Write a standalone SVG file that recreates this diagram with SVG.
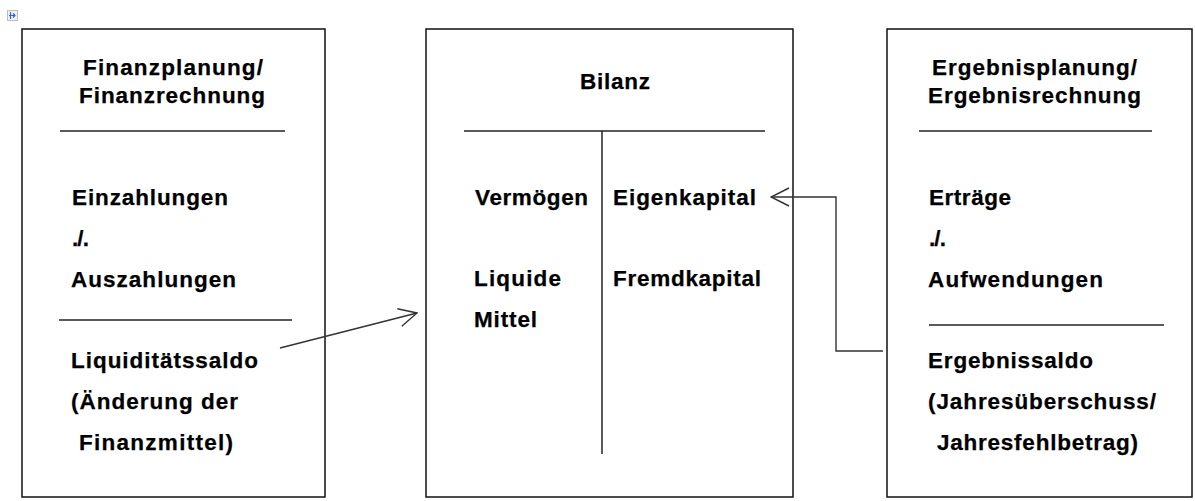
<svg xmlns="http://www.w3.org/2000/svg" width="1195" height="501" viewBox="0 0 1195 501">
<style>
.box{fill:#fff;stroke:#111;stroke-width:1.5}
.rule{stroke:#222;stroke-width:1.5;fill:none}
.t{font-family:"Liberation Sans",Arial,sans-serif;font-weight:bold;font-size:22.5px;fill:#000;stroke:#000;stroke-width:0.25}
.conn{stroke:#333;stroke-width:1.4;fill:none}
</style>
<defs>
<marker id="open" viewBox="0 0 20 20" refX="19" refY="10" markerWidth="20" markerHeight="20" markerUnits="userSpaceOnUse" orient="auto">
<path d="M1,1 L19,10 L1,19" fill="none" stroke="#333" stroke-width="1.4"/>
</marker>
</defs>
<rect width="1195" height="501" fill="#fff"/>
<g id="handle">
<rect x="7.5" y="10.5" width="10" height="10" fill="#eef2f8" stroke="#b8bcc4" stroke-width="1"/>
<path d="M9,15.5 H15 M13,13.5 L15,15.5 L13,17.5 M10.5,12 V19" stroke="#3366cc" stroke-width="1.2" fill="none"/>
</g>
<g id="finanz">
<rect class="box" x="22" y="29" width="303" height="468"/>
<text class="t" x="83" y="75" textLength="180" lengthAdjust="spacing">Finanzplanung/</text>
<text class="t" x="79" y="103" textLength="186" lengthAdjust="spacing">Finanzrechnung</text>
<line class="rule" x1="60" y1="131" x2="285" y2="131"/>
<text class="t" x="72" y="205" textLength="156" lengthAdjust="spacing">Einzahlungen</text>
<text class="t" x="72" y="246" textLength="17" lengthAdjust="spacing">./.</text>
<text class="t" x="71" y="287" textLength="165" lengthAdjust="spacing">Auszahlungen</text>
<line class="rule" x1="59" y1="320" x2="292" y2="320"/>
<text class="t" x="71" y="368" textLength="187" lengthAdjust="spacing">Liquiditätssaldo</text>
<text class="t" x="71" y="409" textLength="167" lengthAdjust="spacing">(Änderung der</text>
<text class="t" x="79" y="450" textLength="154" lengthAdjust="spacing">Finanzmittel)</text>
</g>
<g id="bilanz">
<rect class="box" x="426" y="29" width="367" height="468"/>
<text class="t" x="580" y="89" textLength="70" lengthAdjust="spacing">Bilanz</text>
<line class="rule" x1="464" y1="131" x2="765" y2="131"/>
<line class="rule" x1="602" y1="131" x2="602" y2="454"/>
<text class="t" x="475" y="205" textLength="113" lengthAdjust="spacing">Vermögen</text>
<text class="t" x="613" y="205" textLength="143" lengthAdjust="spacing">Eigenkapital</text>
<text class="t" x="474" y="286" textLength="87" lengthAdjust="spacing">Liquide</text>
<text class="t" x="613" y="286" textLength="148" lengthAdjust="spacing">Fremdkapital</text>
<text class="t" x="474" y="327" textLength="63" lengthAdjust="spacing">Mittel</text>
</g>
<g id="ergebnis">
<rect class="box" x="887" y="29" width="305" height="468"/>
<text class="t" x="932" y="75" textLength="205" lengthAdjust="spacing">Ergebnisplanung/</text>
<text class="t" x="928" y="103" textLength="213" lengthAdjust="spacing">Ergebnisrechnung</text>
<line class="rule" x1="919" y1="131" x2="1152" y2="131"/>
<text class="t" x="929" y="205" textLength="82" lengthAdjust="spacing">Erträge</text>
<text class="t" x="929" y="246" textLength="17" lengthAdjust="spacing">./.</text>
<text class="t" x="928" y="287" textLength="175" lengthAdjust="spacing">Aufwendungen</text>
<line class="rule" x1="929" y1="325" x2="1164" y2="325"/>
<text class="t" x="928" y="368" textLength="165" lengthAdjust="spacing">Ergebnissaldo</text>
<text class="t" x="928" y="409" textLength="228" lengthAdjust="spacing">(Jahresüberschuss/</text>
<text class="t" x="937" y="450" textLength="201" lengthAdjust="spacing">Jahresfehlbetrag)</text>
</g>
<g id="connectors">
<line class="conn" x1="280" y1="348" x2="417" y2="313" marker-end="url(#open)"/>
<polyline class="conn" points="883,351 836,351 836,197 771,197" marker-end="url(#open)"/>
</g>
</svg>
